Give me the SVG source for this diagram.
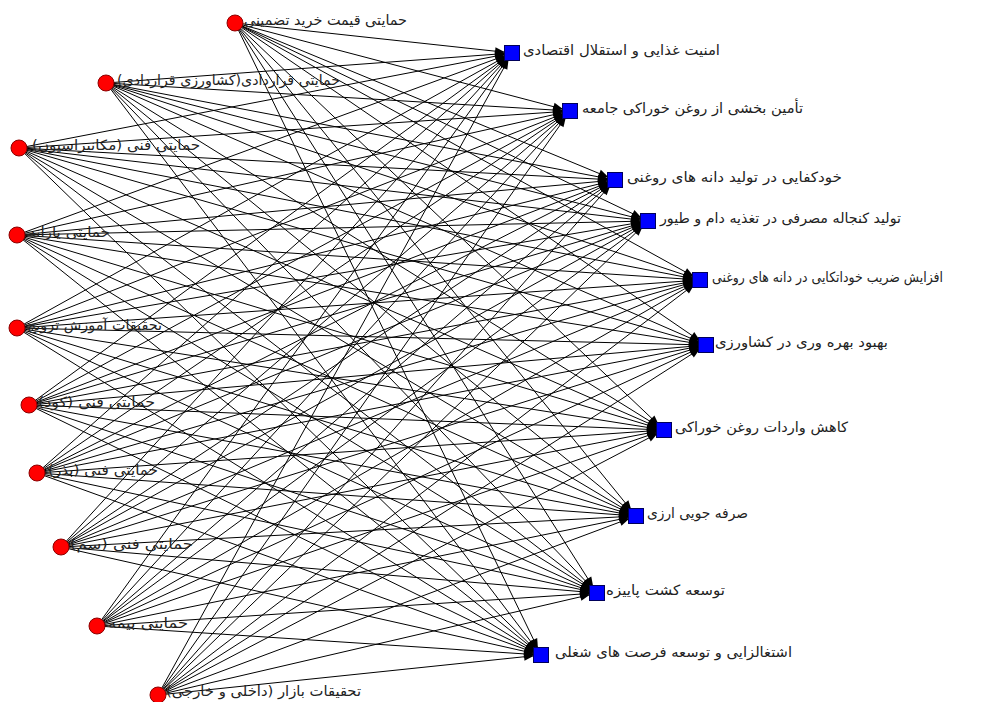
<svg xmlns="http://www.w3.org/2000/svg" width="982" height="702" viewBox="0 0 982 702">
<style>
.e{stroke:#000;stroke-width:1;marker-end:url(#ah)}
.r{fill:#ff0000;stroke:#8b0000;stroke-width:1}
.b{fill:#0000ff;stroke:#00005a;stroke-width:1}
text{font-family:"DejaVu Sans",sans-serif;font-size:14px;fill:#222;direction:rtl;unicode-bidi:embed;text-anchor:end}
</style>
<defs>
<marker id="ah" markerUnits="userSpaceOnUse" markerWidth="20" markerHeight="8" refX="17" refY="4" orient="auto" overflow="visible">
<path d="M0,0 L10,4 L0,8 z" fill="#000"/>
</marker>
</defs>
<rect width="982" height="702" fill="#fff"/>
<g id="connectors">
<line class="e" x1="235" y1="23" x2="512" y2="53"/><line class="e" x1="235" y1="23" x2="570" y2="111"/><line class="e" x1="235" y1="23" x2="615" y2="180"/><line class="e" x1="235" y1="23" x2="648" y2="221"/><line class="e" x1="235" y1="23" x2="700" y2="280"/><line class="e" x1="235" y1="23" x2="706" y2="345"/><line class="e" x1="235" y1="23" x2="664" y2="430"/><line class="e" x1="235" y1="23" x2="636" y2="516"/><line class="e" x1="235" y1="23" x2="597" y2="593"/><line class="e" x1="235" y1="23" x2="541" y2="655"/>
<line class="e" x1="106" y1="83" x2="512" y2="53"/><line class="e" x1="106" y1="83" x2="570" y2="111"/><line class="e" x1="106" y1="83" x2="615" y2="180"/><line class="e" x1="106" y1="83" x2="648" y2="221"/><line class="e" x1="106" y1="83" x2="700" y2="280"/><line class="e" x1="106" y1="83" x2="706" y2="345"/><line class="e" x1="106" y1="83" x2="664" y2="430"/><line class="e" x1="106" y1="83" x2="636" y2="516"/><line class="e" x1="106" y1="83" x2="597" y2="593"/><line class="e" x1="106" y1="83" x2="541" y2="655"/>
<line class="e" x1="19" y1="148" x2="512" y2="53"/><line class="e" x1="19" y1="148" x2="570" y2="111"/><line class="e" x1="19" y1="148" x2="615" y2="180"/><line class="e" x1="19" y1="148" x2="648" y2="221"/><line class="e" x1="19" y1="148" x2="700" y2="280"/><line class="e" x1="19" y1="148" x2="706" y2="345"/><line class="e" x1="19" y1="148" x2="664" y2="430"/><line class="e" x1="19" y1="148" x2="636" y2="516"/><line class="e" x1="19" y1="148" x2="597" y2="593"/><line class="e" x1="19" y1="148" x2="541" y2="655"/>
<line class="e" x1="17" y1="235" x2="512" y2="53"/><line class="e" x1="17" y1="235" x2="570" y2="111"/><line class="e" x1="17" y1="235" x2="615" y2="180"/><line class="e" x1="17" y1="235" x2="648" y2="221"/><line class="e" x1="17" y1="235" x2="700" y2="280"/><line class="e" x1="17" y1="235" x2="706" y2="345"/><line class="e" x1="17" y1="235" x2="664" y2="430"/><line class="e" x1="17" y1="235" x2="636" y2="516"/><line class="e" x1="17" y1="235" x2="597" y2="593"/><line class="e" x1="17" y1="235" x2="541" y2="655"/>
<line class="e" x1="17" y1="328" x2="512" y2="53"/><line class="e" x1="17" y1="328" x2="570" y2="111"/><line class="e" x1="17" y1="328" x2="615" y2="180"/><line class="e" x1="17" y1="328" x2="648" y2="221"/><line class="e" x1="17" y1="328" x2="700" y2="280"/><line class="e" x1="17" y1="328" x2="706" y2="345"/><line class="e" x1="17" y1="328" x2="664" y2="430"/><line class="e" x1="17" y1="328" x2="636" y2="516"/><line class="e" x1="17" y1="328" x2="597" y2="593"/><line class="e" x1="17" y1="328" x2="541" y2="655"/>
<line class="e" x1="29" y1="405" x2="512" y2="53"/><line class="e" x1="29" y1="405" x2="570" y2="111"/><line class="e" x1="29" y1="405" x2="615" y2="180"/><line class="e" x1="29" y1="405" x2="648" y2="221"/><line class="e" x1="29" y1="405" x2="700" y2="280"/><line class="e" x1="29" y1="405" x2="706" y2="345"/><line class="e" x1="29" y1="405" x2="664" y2="430"/><line class="e" x1="29" y1="405" x2="636" y2="516"/><line class="e" x1="29" y1="405" x2="597" y2="593"/><line class="e" x1="29" y1="405" x2="541" y2="655"/>
<line class="e" x1="37" y1="473" x2="512" y2="53"/><line class="e" x1="37" y1="473" x2="570" y2="111"/><line class="e" x1="37" y1="473" x2="615" y2="180"/><line class="e" x1="37" y1="473" x2="648" y2="221"/><line class="e" x1="37" y1="473" x2="700" y2="280"/><line class="e" x1="37" y1="473" x2="706" y2="345"/><line class="e" x1="37" y1="473" x2="664" y2="430"/><line class="e" x1="37" y1="473" x2="636" y2="516"/><line class="e" x1="37" y1="473" x2="597" y2="593"/><line class="e" x1="37" y1="473" x2="541" y2="655"/>
<line class="e" x1="61" y1="547" x2="512" y2="53"/><line class="e" x1="61" y1="547" x2="570" y2="111"/><line class="e" x1="61" y1="547" x2="615" y2="180"/><line class="e" x1="61" y1="547" x2="648" y2="221"/><line class="e" x1="61" y1="547" x2="700" y2="280"/><line class="e" x1="61" y1="547" x2="706" y2="345"/><line class="e" x1="61" y1="547" x2="664" y2="430"/><line class="e" x1="61" y1="547" x2="636" y2="516"/><line class="e" x1="61" y1="547" x2="597" y2="593"/><line class="e" x1="61" y1="547" x2="541" y2="655"/>
<line class="e" x1="97" y1="626" x2="512" y2="53"/><line class="e" x1="97" y1="626" x2="570" y2="111"/><line class="e" x1="97" y1="626" x2="615" y2="180"/><line class="e" x1="97" y1="626" x2="648" y2="221"/><line class="e" x1="97" y1="626" x2="700" y2="280"/><line class="e" x1="97" y1="626" x2="706" y2="345"/><line class="e" x1="97" y1="626" x2="664" y2="430"/><line class="e" x1="97" y1="626" x2="636" y2="516"/><line class="e" x1="97" y1="626" x2="597" y2="593"/><line class="e" x1="97" y1="626" x2="541" y2="655"/>
<line class="e" x1="158" y1="695" x2="512" y2="53"/><line class="e" x1="158" y1="695" x2="570" y2="111"/><line class="e" x1="158" y1="695" x2="615" y2="180"/><line class="e" x1="158" y1="695" x2="648" y2="221"/><line class="e" x1="158" y1="695" x2="700" y2="280"/><line class="e" x1="158" y1="695" x2="706" y2="345"/><line class="e" x1="158" y1="695" x2="664" y2="430"/><line class="e" x1="158" y1="695" x2="636" y2="516"/><line class="e" x1="158" y1="695" x2="597" y2="593"/><line class="e" x1="158" y1="695" x2="541" y2="655"/>
</g>
<g id="r1"><circle class="r" cx="235" cy="23" r="8"/><text x="244" y="25" textLength="163" lengthAdjust="spacingAndGlyphs">حمایتی قیمت خرید تضمینی</text></g>
<g id="r2"><circle class="r" cx="106" cy="83" r="8"/><text x="117" y="85" textLength="223" lengthAdjust="spacingAndGlyphs">حمایتی قراردادی(کشاورزی قراردادی)</text></g>
<g id="r3"><circle class="r" cx="19" cy="148" r="8"/><text x="32" y="150" textLength="168" lengthAdjust="spacingAndGlyphs">حمایتی فنی (مکانیزاسیون)</text></g>
<g id="r4"><circle class="r" cx="17" cy="235" r="8"/><text x="28" y="237" textLength="82" lengthAdjust="spacingAndGlyphs">حمایتی یارانه</text></g>
<g id="r5"><circle class="r" cx="17" cy="328" r="8"/><text x="27" y="330" textLength="135" lengthAdjust="spacingAndGlyphs">تحقیقات آموزش ترویج</text></g>
<g id="r6"><circle class="r" cx="29" cy="405" r="8"/><text x="38" y="407" textLength="117" lengthAdjust="spacingAndGlyphs">حمایتی فنی (کود)</text></g>
<g id="r7"><circle class="r" cx="37" cy="473" r="8"/><text x="48" y="475" textLength="110" lengthAdjust="spacingAndGlyphs">حمایتی فنی (بذر)</text></g>
<g id="r8"><circle class="r" cx="61" cy="547" r="8"/><text x="70" y="549" textLength="123" lengthAdjust="spacingAndGlyphs">حمایتی فنی (سم)</text></g>
<g id="r9"><circle class="r" cx="97" cy="626" r="8"/><text x="108" y="628" textLength="80" lengthAdjust="spacingAndGlyphs">حمایتی بیمه</text></g>
<g id="r10"><circle class="r" cx="158" cy="695" r="8"/><text x="166" y="696" textLength="195" lengthAdjust="spacingAndGlyphs">تحقیقات بازار (داخلی و خارجی)</text></g>
<g id="b1"><rect class="b" x="504.5" y="45.5" width="15" height="15"/><text x="523" y="55" textLength="197" lengthAdjust="spacingAndGlyphs">امنیت غذایی و استقلال اقتصادی</text></g>
<g id="b2"><rect class="b" x="562.5" y="103.5" width="15" height="15"/><text x="582" y="113" textLength="221" lengthAdjust="spacingAndGlyphs">تأمین بخشی از روغن خوراکی جامعه</text></g>
<g id="b3"><rect class="b" x="607.5" y="172.5" width="15" height="15"/><text x="627" y="182" textLength="215" lengthAdjust="spacingAndGlyphs">خودکفایی در تولید دانه های روغنی</text></g>
<g id="b4"><rect class="b" x="640.5" y="213.5" width="15" height="15"/><text x="660" y="223" textLength="241" lengthAdjust="spacingAndGlyphs">تولید کنجاله مصرفی در تغذیه دام و طیور</text></g>
<g id="b5"><rect class="b" x="692.5" y="272.5" width="15" height="15"/><text x="712" y="282" textLength="231" lengthAdjust="spacingAndGlyphs">افزایش ضریب خوداتکایی در دانه های روغنی</text></g>
<g id="b6"><rect class="b" x="698.5" y="337.5" width="15" height="15"/><text x="715" y="347" textLength="173" lengthAdjust="spacingAndGlyphs">بهبود بهره وری در کشاورزی</text></g>
<g id="b7"><rect class="b" x="656.5" y="422.5" width="15" height="15"/><text x="675" y="432" textLength="173" lengthAdjust="spacingAndGlyphs">کاهش واردات روغن خوراکی</text></g>
<g id="b8"><rect class="b" x="628.5" y="508.5" width="15" height="15"/><text x="647" y="518" textLength="101" lengthAdjust="spacingAndGlyphs">صرفه جویی ارزی</text></g>
<g id="b9"><rect class="b" x="589.5" y="585.5" width="15" height="15"/><text x="606" y="595" textLength="119" lengthAdjust="spacingAndGlyphs">توسعه کشت پاییزه</text></g>
<g id="b10"><rect class="b" x="533.5" y="647.5" width="15" height="15"/><text x="555" y="657" textLength="237" lengthAdjust="spacingAndGlyphs">اشتغالزایی و توسعه فرصت های شغلی</text></g>
</svg>
